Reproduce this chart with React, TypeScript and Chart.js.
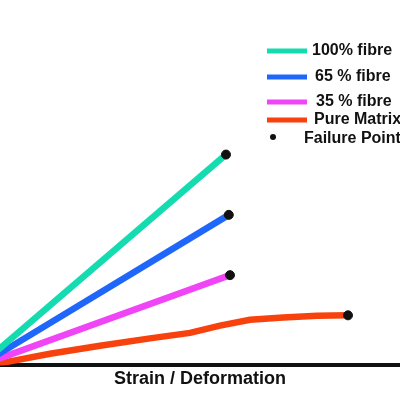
import { useEffect, useRef } from "react";
import { Chart, registerables } from "chart.js";

Chart.register(...registerables);

// strain (x) and stress (y) values
const seriesLabels = ["100% fibre", "65 % fibre", "35 % fibre", "Pure Matrix"];
const seriesColors = ["#14dbb0", "#1f66fb", "#f045f6", "#f8420e"];

const fibre100X = [0, 6.15];
const fibre100Y = [0, 57.7];
const fibre65X = [0, 6.22];
const fibre65Y = [0, 41.2];
const fibre35X = [0, 6.25];
const fibre35Y = [0, 24.7];
const matrixX = [0, 0.5, 1.75, 3.0, 4.25, 5.25, 6.0, 6.75, 7.58, 8.43, 9.2];
const matrixY = [0, 0.6, 3.2, 5.4, 7.4, 8.9, 10.9, 12.5, 13.1, 13.6, 13.7];

const failureLabel = "Failure Point";
const failureX = [6.15, 6.22, 6.25, 9.2];
const failureY = [57.7, 41.2, 24.7, 13.7];

const xTitle = "Strain / Deformation";

const toPoints = (xs: number[], ys: number[]) => xs.map((x, i) => ({ x, y: ys[i] }));

// legend drawn by hand, top right, partly cut off like the original
const legendPlugin = {
  id: "sideLegend",
  afterDraw(chart: Chart) {
    const ctx = chart.ctx;
    const rows = [51, 77, 102, 120];
    const textX = [312, 315, 316, 314];
    ctx.save();
    ctx.font = "bold 16px 'Liberation Sans', Arial, sans-serif";
    ctx.textBaseline = "middle";
    ctx.fillStyle = "#111";
    seriesLabels.forEach((label, i) => {
      ctx.strokeStyle = seriesColors[i];
      ctx.lineWidth = 5;
      ctx.beginPath();
      ctx.moveTo(267, rows[i]);
      ctx.lineTo(307, rows[i]);
      ctx.stroke();
      ctx.fillText(label, textX[i], rows[i]);
    });
    ctx.beginPath();
    ctx.arc(273, 137, 3, 0, Math.PI * 2);
    ctx.fill();
    ctx.fillText(failureLabel, 304, 139);
    ctx.restore();
  },
};

export default function App() {
  const chartRef = useRef<HTMLCanvasElement | null>(null);

  useEffect(() => {
    if (!chartRef.current) return;
    const lineSet = (i: number, xs: number[], ys: number[]) => ({
      type: "line" as const,
      label: seriesLabels[i],
      data: toPoints(xs, ys),
      borderColor: seriesColors[i],
      backgroundColor: seriesColors[i],
      borderWidth: 6.5,
      pointRadius: 0,
      tension: 0,
    });

    const chart = new Chart(chartRef.current, {
      type: "line",
      data: {
        datasets: [
          {
            type: "scatter" as const,
            label: failureLabel,
            data: toPoints(failureX, failureY),
            backgroundColor: "#111",
            borderColor: "#111",
            pointRadius: 4.5,
            order: 0,
          },
          lineSet(0, fibre100X, fibre100Y),
          lineSet(1, fibre65X, fibre65Y),
          lineSet(2, fibre35X, fibre35Y),
          lineSet(3, matrixX, matrixY),
        ] as any,
      },
      options: {
        animation: false,
        responsive: true,
        maintainAspectRatio: false,
        layout: { autoPadding: false, padding: { top: 0, left: 0, right: 0, bottom: 6 } },
        plugins: { legend: { display: false }, tooltip: { enabled: false } },
        scales: {
          x: {
            type: "linear",
            min: 0.5,
            max: 10.5,
            grid: { display: false, tickLength: 0 },
            ticks: { display: false, padding: 0 },
            border: { display: true, color: "#111", width: 4 },
            title: {
              display: true,
              text: xTitle,
              color: "#111",
              font: { family: "'Liberation Sans', Arial, sans-serif", size: 18, weight: "bold" },
              padding: { top: 3, bottom: 4 },
            },
          },
          y: {
            display: false,
            min: 0,
            max: 100,
          },
        },
      },
      plugins: [legendPlugin],
    });

    return () => {
      chart.destroy();
    };
  }, []);

  return (
    <div style={{ position: "absolute", left: 0, top: 0, width: 400, height: 400, background: "#fff" }}>
      <canvas ref={chartRef}></canvas>
    </div>
  );
}
